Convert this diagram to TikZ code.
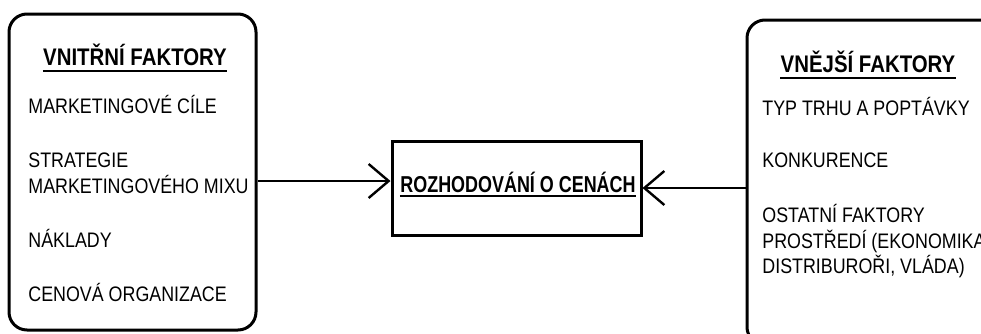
\documentclass[tikz,border=0pt]{standalone}
\usepackage{fontspec}
\setmainfont{Liberation Sans}[FakeStretch=0.85]
\newfontfamily\ctrfont{Liberation Sans}[FakeStretch=0.78]
\usetikzlibrary{arrows.meta}

\begin{document}
\begin{tikzpicture}[x=0.5pt, y=-0.5pt,
    factorbox/.style={draw, line width=1.5pt, rounded corners=9pt},
    item/.style={anchor=base west, inner sep=0pt, font=\fontsize{10.5}{13}\selectfont},
    head/.style={anchor=base, inner sep=0pt, font=\bfseries\fontsize{12}{14}\selectfont},
    flow/.style={line width=1.2pt, -{Straight Barb[length=10pt, width=17pt]}}]
    \path[use as bounding box] (0, 0) rectangle (981, 333);
    \clip (0, 0) rectangle (981, 333);

    \node [factorbox, minimum width=123.5pt, minimum height=158pt] (lbox) at (132.5, 172) {};
    \node [factorbox, minimum width=131.5pt, minimum height=162.5pt] (rbox) at (878.5, 182.5) {};
    \node [draw, line width=1.5pt, minimum width=124.5pt, minimum height=47pt] (price) at (516.5, 188) {};

    % internal factors
    \node [head] (lhead) at (135, 65) {VNITŘNÍ FAKTORY};
    \draw [line width=1pt] ([yshift=-2.5pt]lhead.south west) -- ([yshift=-2.5pt]lhead.south east);
    \node [item] (l1) at (28, 113) {MARKETINGOVÉ CÍLE};
    \node [item] (l2) at (28, 167) {STRATEGIE};
    \node [item] (l3) at (28, 193) {MARKETINGOVÉHO MIXU};
    \node [item] (l4) at (28, 247) {NÁKLADY};
    \node [item] (l5) at (28, 301) {CENOVÁ ORGANIZACE};

    % external factors
    \node [head] (rhead) at (868, 72) {VNĚJŠÍ FAKTORY};
    \draw [line width=1pt] ([yshift=-2.5pt]rhead.south west) -- ([yshift=-2.5pt]rhead.south east);
    \node [item] (r1) at (762, 115) {TYP TRHU A POPTÁVKY};
    \node [item] (r2) at (762, 167) {KONKURENCE};
    \node [item] (r3) at (762, 222) {OSTATNÍ FAKTORY};
    \node [item] (r4) at (762, 248) {PROSTŘEDÍ (EKONOMIKA,};
    \node [item] (r5) at (762, 273) {DISTRIBUROŘI, VLÁDA)};

    % decision
    \node [anchor=base, inner sep=0pt, font=\ctrfont\bfseries\fontsize{11.5}{14}\selectfont] (plabel) at (518, 192) {ROZHODOVÁNÍ O CENÁCH};
    \draw [line width=1pt] ([yshift=-1.5pt]plabel.south west) -- ([yshift=-1.5pt]plabel.south east);

    \coordinate (lin) at (0, 181);
    \draw [flow] (lbox.east |- lin) -- (price.west |- lin);
    \draw [flow] (rbox.west |- price.east) -- (price.east);
\end{tikzpicture}
\end{document}
